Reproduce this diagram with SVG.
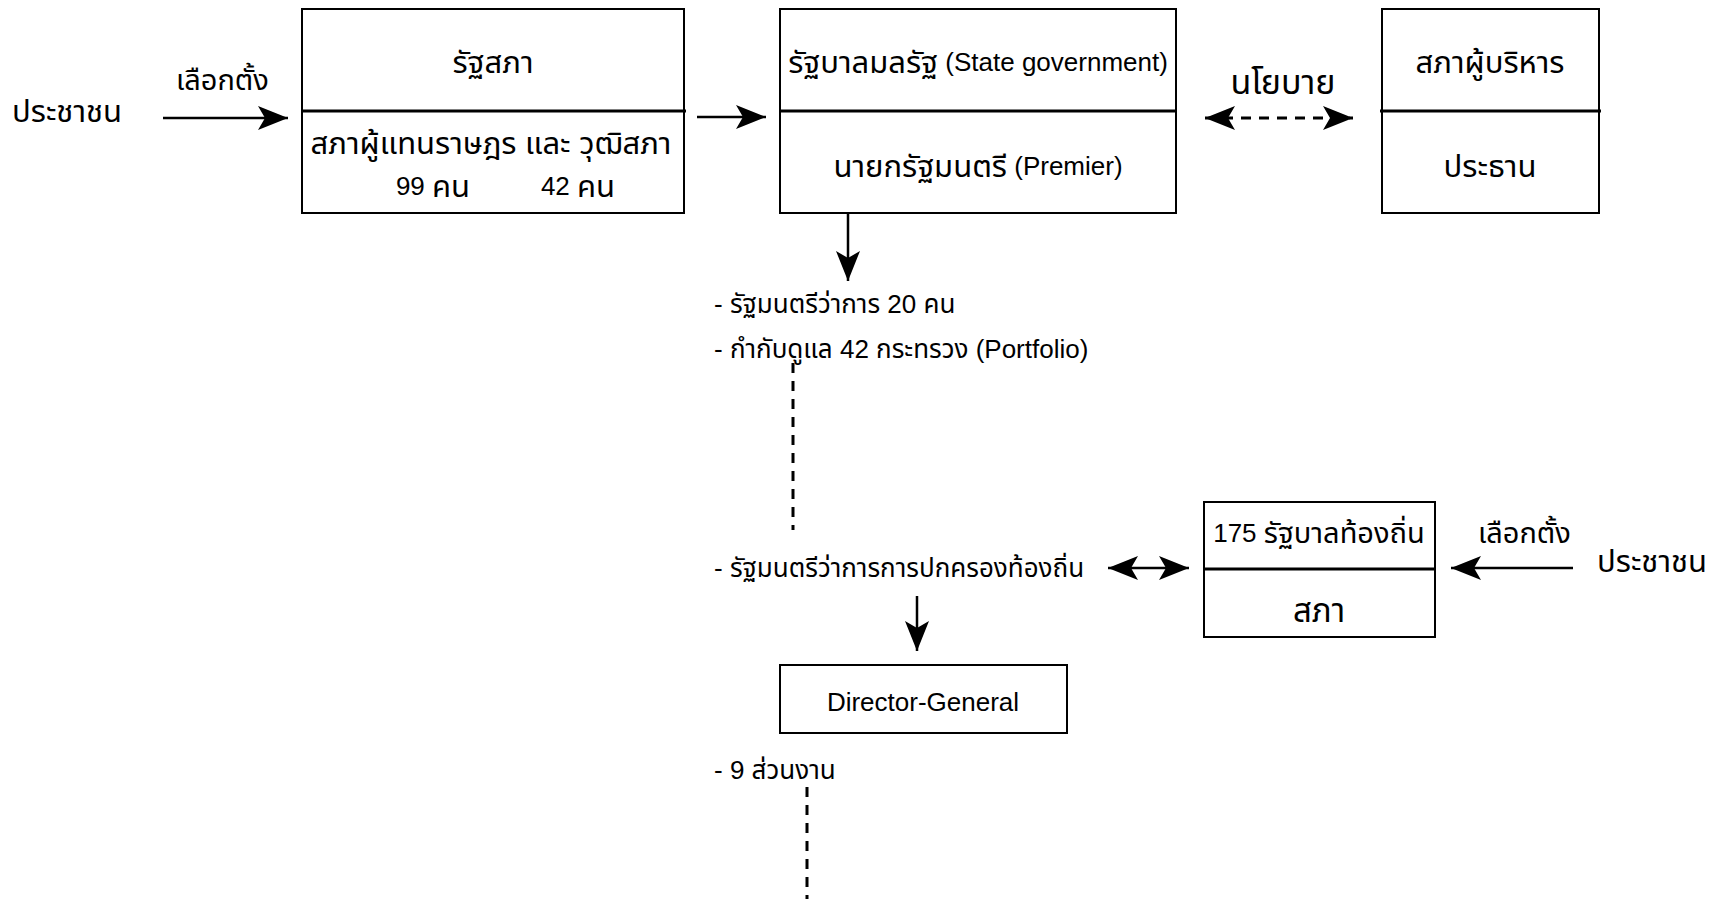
<svg xmlns="http://www.w3.org/2000/svg" width="1715" height="899" viewBox="0 0 1715 899">
<style>
text{font-family:"Liberation Sans","Noto Sans Thai","Noto Sans",sans-serif;font-size:26px;fill:#000;dominant-baseline:central}
.c{text-anchor:middle}
.th{font-size:31px}
.el{font-size:29px}
.box{fill:#fff;stroke:#000;stroke-width:2}
.div{stroke:#000;stroke-width:3}
.ln{stroke:#000;stroke-width:2.5;fill:none}
.dash{stroke:#000;stroke-width:3;fill:none;stroke-dasharray:10 8}
</style>
<defs>
<marker id="ah" markerUnits="userSpaceOnUse" markerWidth="32" markerHeight="26" refX="30" refY="12" orient="auto-start-reverse" viewBox="0 0 32 26">
<path d="M0,0 L30,12 L0,24 L7,12 Z" fill="#000"/>
</marker>
</defs>
<rect width="1715" height="899" fill="#fff"/>
<g id="connectors">
<line class="ln" x1="163" y1="118" x2="288" y2="118" marker-end="url(#ah)"/>
<line class="ln" x1="697" y1="117" x2="766" y2="117" marker-end="url(#ah)"/>
<line class="dash" x1="1205" y1="118" x2="1353" y2="118" marker-start="url(#ah)" marker-end="url(#ah)"/>
<line class="ln" x1="848" y1="213" x2="848" y2="281" marker-end="url(#ah)"/>
<line class="dash" x1="793" y1="363" x2="793" y2="530"/>
<line class="ln" x1="1108" y1="568" x2="1189" y2="568" marker-start="url(#ah)" marker-end="url(#ah)"/>
<line class="ln" x1="1573" y1="568" x2="1451" y2="568" marker-end="url(#ah)"/>
<line class="ln" x1="917" y1="596" x2="917" y2="651" marker-end="url(#ah)"/>
<line class="dash" x1="807" y1="787" x2="807" y2="899"/>
</g>
<g id="people-left">
<text class="th" x="12" y="111">ประชาชน</text>
<text class="el" x="176" y="80">เลือกตั้ง</text>
</g>
<g id="parliament">
<rect class="box" x="302" y="9" width="382" height="204"/>
<line class="div" x1="302" y1="111" x2="686" y2="111"/>
<text class="c th" x="493" y="62">รัฐสภา</text>
<text class="c th" x="491" y="143">สภาผู้แทนราษฎร และ วุฒิสภา</text>
<text class="c" x="433" y="186">99 <tspan class="th">คน</tspan></text>
<text class="c" x="578" y="186">42 <tspan class="th">คน</tspan></text>
</g>
<g id="state-government">
<rect class="box" x="780" y="9" width="396" height="204"/>
<line class="div" x1="780" y1="111" x2="1176" y2="111"/>
<text class="c" x="978" y="62"><tspan class="th">รัฐบาลมลรัฐ</tspan> (State government)</text>
<text class="c" x="978" y="166"><tspan class="th">นายกรัฐมนตรี</tspan> (Premier)</text>
</g>
<g id="policy-label">
<text class="c" x="1283" y="82" style="font-size:34px">นโยบาย</text>
</g>
<g id="executive-council">
<rect class="box" x="1382" y="9" width="217" height="204"/>
<line class="div" x1="1380" y1="111" x2="1601" y2="111"/>
<text class="c th" x="1490" y="62">สภาผู้บริหาร</text>
<text class="c th" x="1490" y="166">ประธาน</text>
</g>
<g id="ministers">
<text x="714" y="304">- รัฐมนตรีว่าการ 20 คน</text>
<text x="714" y="349">- กำกับดูแล 42 กระทรวง (Portfolio)</text>
</g>
<g id="local-minister">
<text x="714" y="568">- รัฐมนตรีว่าการการปกครองท้องถิ่น</text>
</g>
<g id="local-government">
<rect class="box" x="1204" y="502" width="231" height="135"/>
<line class="div" x1="1204" y1="569" x2="1436" y2="569"/>
<text class="c" x="1319" y="533">175 <tspan class="th" style="font-size:29px">รัฐบาลท้องถิ่น</tspan></text>
<text class="c" x="1319" y="610" style="font-size:33px">สภา</text>
</g>
<g id="people-right">
<text class="el" x="1478" y="533">เลือกตั้ง</text>
<text class="th" x="1597" y="561">ประชาชน</text>
</g>
<g id="director-general">
<rect class="box" x="780" y="665" width="287" height="68"/>
<text class="c" x="923" y="702">Director-General</text>
</g>
<g id="departments">
<text x="714" y="770">- 9 ส่วนงาน</text>
</g>
</svg>
